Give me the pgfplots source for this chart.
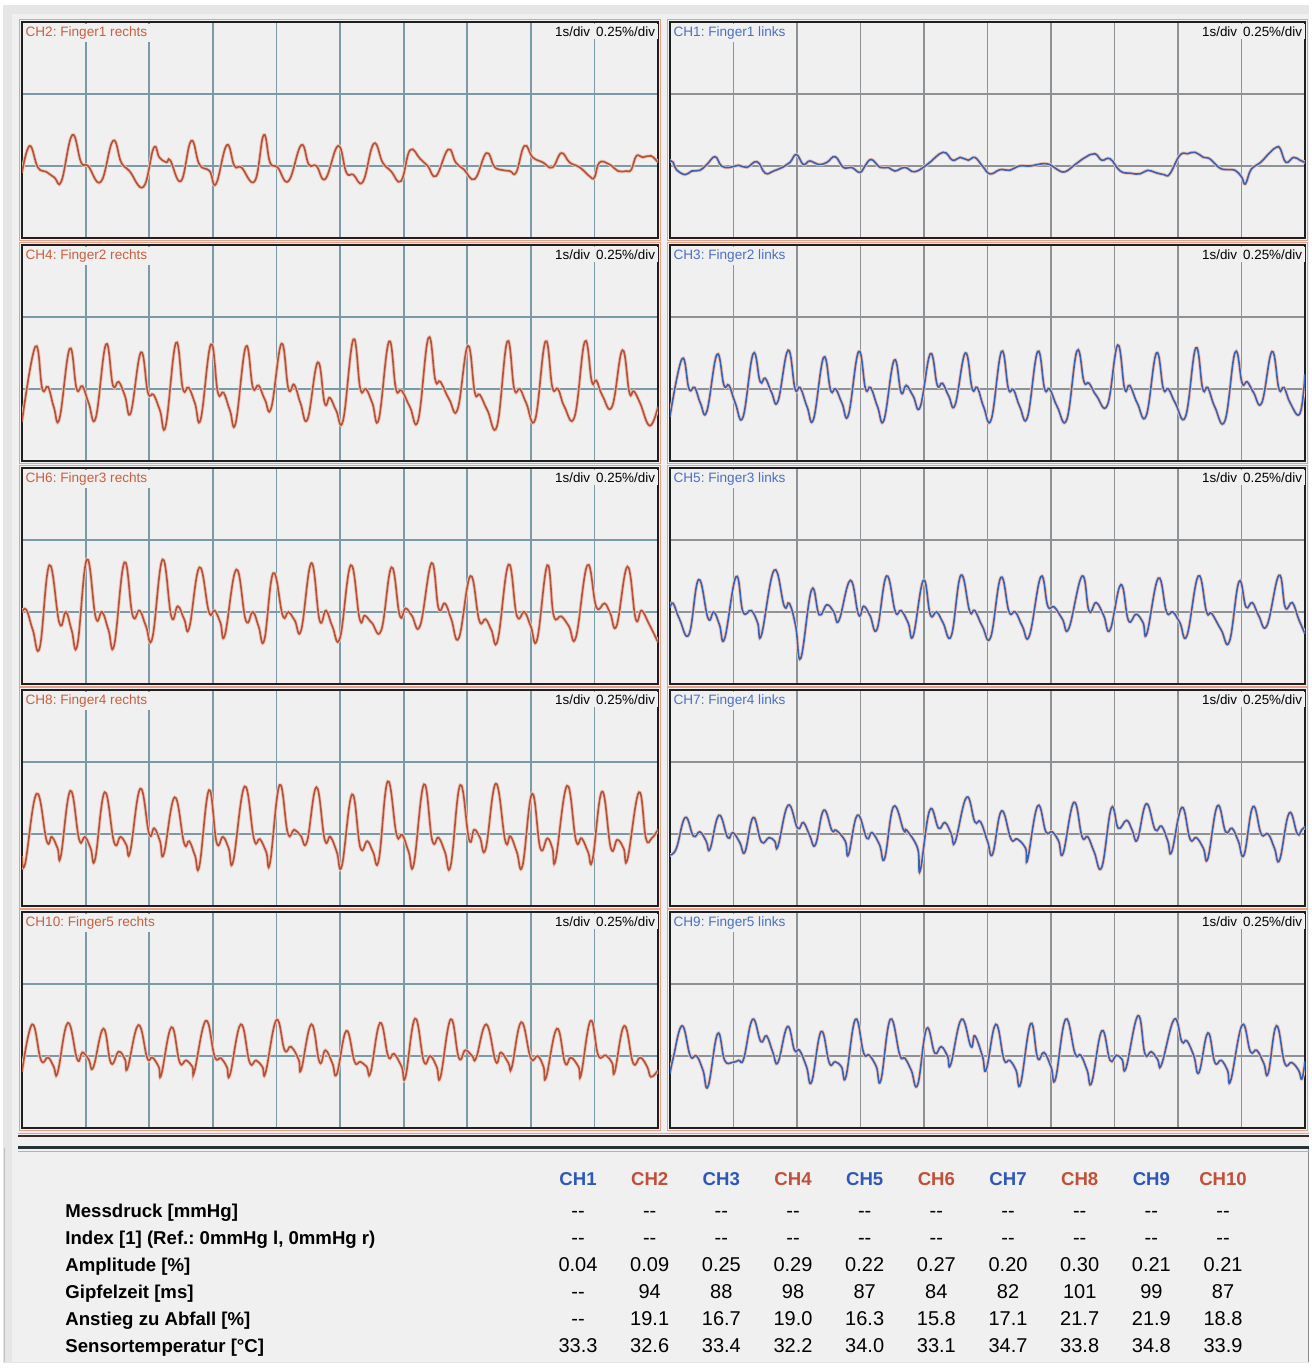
\documentclass[border=0pt]{standalone}
\usepackage{pgfplots}
\pgfplotsset{compat=1.18}
\usepackage{fontspec}
\setmainfont{Liberation Sans}
\frenchspacing
\definecolor{bg}{HTML}{F0F0F0}
\definecolor{outerbg}{HTML}{E6E6E6}
\definecolor{gridL}{HTML}{7B9AA8}
\definecolor{gridR}{HTML}{8E9294}
\definecolor{trR}{HTML}{B0533A}
\definecolor{trB}{HTML}{3762B4}
\definecolor{labR}{HTML}{C8603F}
\definecolor{labB}{HTML}{4A70C4}
\definecolor{hdR}{HTML}{C0503A}
\definecolor{hdB}{HTML}{2E58B8}
\definecolor{salmon}{HTML}{E8A088}
\definecolor{halo}{HTML}{F0C4B6}
\definecolor{sepA}{HTML}{3A2A28}
\definecolor{sepB}{HTML}{26323A}
\pgfplotsset{
 panel/.style={scale only axis, width=318pt, height=108pt, xmin=0, xmax=10, ymin=-1, ymax=2,
   xtick={1,2,...,9}, ytick={0,1}, xticklabels={}, yticklabels={}, major tick length=0pt,
   xmajorgrids, ymajorgrids, axis line style={draw=black!88, line width=1pt},
   axis background/.style={fill=bg}, anchor=north west},
 left/.style={panel, grid style={gridL, line width=0.9pt}},
 right/.style={panel, width=317.5pt, grid style={gridR, line width=0.9pt}},
 trr/.style={trR, line width=0.8pt, smooth, tension=0.72, no marks, preaction={draw=halo, line width=1.7pt}},
 trb/.style={trB, line width=0.8pt, smooth, tension=0.72, no marks, preaction={draw=halo, line width=1.7pt}},
}
\newcommand{\lab}[2]{\node[anchor=north west, inner sep=1.3pt, fill=bg, text=#1, font=\fontsize{6.8}{7}\selectfont] at ([xshift=0.3pt,yshift=-0.8pt]rel axis cs:0,1) {#2};
 \node[anchor=north east, inner sep=1.3pt, fill=bg, text=black, font=\fontsize{6.7}{7}\selectfont] at ([xshift=0pt,yshift=-0.8pt]rel axis cs:1,1) {1s/div\hspace{3pt}0.25\%/div};}
\begin{document}
\begin{tikzpicture}
\useasboundingbox (0,0) rectangle (655.5pt,-684.5pt);
\begin{scope}[x=0.5pt,y=-0.5pt]
\fill[white] (0,0) rectangle (1311,1369);
\fill[outerbg] (3,5) rectangle (1309,1363);
\fill[bg] (12,14) rectangle (1309,1362);
\draw[black!45, line width=0.5pt] (1308,1148) -- (1308,1362);
\draw[black!25, line width=0.5pt] (4,1148) -- (4,1362);
\end{scope}

% ---------------- Row 1 ----------------
\begin{axis}[left, at={(11pt,-11pt)}]
\addplot[trr] coordinates {(0,-0.09) (0.12,0.28) (0.25,-0.02) (0.38,-0.08) (0.51,-0.16) (0.62,-0.21) (0.79,0.43) (0.93,0.05) (1.04,0.0) (1.24,-0.22) (1.43,0.35) (1.56,0.05) (1.69,-0.07) (1.91,-0.29) (2.07,0.25) (2.16,0.12) (2.27,0.05) (2.33,0.08) (2.50,-0.21) (2.66,0.35) (2.79,0.02) (2.95,-0.07) (3.05,-0.25) (3.22,0.29) (3.34,0.0) (3.45,-0.02) (3.66,-0.21) (3.80,0.43) (3.90,0.05) (4.02,-0.02) (4.19,-0.21) (4.39,0.29) (4.51,0.02) (4.63,0.0) (4.77,-0.18) (4.97,0.28) (5.10,-0.09) (5.21,-0.12) (5.36,-0.22) (5.53,0.31) (5.67,0.05) (5.80,-0.07) (5.96,-0.21) (6.10,0.22) (6.26,0.10) (6.38,0.0) (6.51,-0.14) (6.70,0.23) (6.82,0.05) (6.95,-0.05) (7.12,-0.18) (7.30,0.18) (7.42,0.0) (7.51,-0.05) (7.67,-0.07) (7.77,-0.09) (7.90,0.28) (8.03,0.12) (8.19,0.05) (8.34,-0.02) (8.48,0.18) (8.61,0.05) (8.77,-0.02) (8.92,-0.14) (9.0,-0.16) (9.08,0.05) (9.24,0.02) (9.37,-0.07) (9.50,-0.07) (9.58,-0.05) (9.66,0.14) (9.76,0.12) (9.89,0.14) (10,0.05)};
\lab{labR}{CH2: Finger1 rechts}
\end{axis}
\begin{axis}[right, at={(335pt,-11pt)}]
\addplot[trb] coordinates {(0,0.07) (0.05,0.05) (0.10,-0.05) (0.24,-0.12) (0.34,-0.07) (0.47,-0.06) (0.58,0.02) (0.71,0.13) (0.81,0.0) (0.94,-0.02) (1.08,0.01) (1.21,-0.02) (1.37,0.06) (1.50,-0.10) (1.63,-0.07) (1.79,-0.01) (1.89,0.05) (1.99,0.16) (2.10,0.02) (2.20,0.07) (2.34,0.02) (2.47,0.05) (2.60,0.13) (2.73,-0.02) (2.86,-0.02) (2.99,-0.09) (3.07,0.0) (3.17,0.09) (3.31,-0.02) (3.44,-0.02) (3.54,-0.07) (3.70,-0.02) (3.85,-0.08) (4.05,0.02) (4.30,0.19) (4.45,0.08) (4.57,0.12) (4.70,0.08) (4.80,0.12) (4.92,0.0) (5.04,-0.11) (5.20,-0.05) (5.35,-0.06) (5.50,0.0) (5.67,0.0) (5.85,0.03) (5.98,0.02) (6.10,-0.05) (6.22,-0.08) (6.38,0.02) (6.54,0.12) (6.69,0.17) (6.80,0.08) (6.93,0.10) (7.09,-0.07) (7.25,-0.10) (7.40,-0.11) (7.52,-0.06) (7.64,-0.09) (7.78,-0.12) (7.87,-0.11) (8.03,0.15) (8.15,0.17) (8.27,0.19) (8.40,0.12) (8.50,0.10) (8.66,-0.03) (8.80,-0.05) (8.90,-0.06) (9.0,-0.15) (9.06,-0.25) (9.15,-0.05) (9.30,0.05) (9.45,0.19) (9.55,0.26) (9.61,0.24) (9.70,0.05) (9.82,0.12) (9.92,0.08) (10,0.05)};
\lab{labB}{CH1: Finger1 links}
\end{axis}

% ---------------- Row 2 ----------------
\begin{axis}[left, at={(11pt,-122.5pt)}]
\addplot[trr] coordinates {(0,-0.45) (0.21,0.59) (0.32,0.0) (0.41,0.03) (0.50,-0.25) (0.59,-0.41) (0.75,0.56) (0.86,0.0) (0.95,0.04) (1.05,-0.2) (1.16,-0.40) (1.32,0.62) (1.43,0.05) (1.52,0.10) (1.62,-0.1) (1.71,-0.33) (1.87,0.51) (1.98,-0.05) (2.07,-0.08) (2.17,-0.3) (2.26,-0.51) (2.42,0.64) (2.53,0.0) (2.62,0.02) (2.72,-0.2) (2.81,-0.42) (2.97,0.62) (3.08,-0.05) (3.17,-0.05) (3.27,-0.3) (3.36,-0.47) (3.52,0.59) (3.63,0.02) (3.72,0.05) (3.82,-0.15) (3.92,-0.26) (4.08,0.63) (4.19,0.0) (4.28,0.06) (4.38,-0.2) (4.49,-0.42) (4.65,0.37) (4.76,-0.2) (4.84,-0.12) (4.94,-0.3) (5.05,-0.43) (5.21,0.69) (5.32,0.0) (5.41,0.0) (5.51,-0.2) (5.61,-0.42) (5.77,0.66) (5.88,0.0) (5.97,-0.02) (6.10,-0.25) (6.23,-0.43) (6.39,0.71) (6.50,0.12) (6.58,0.10) (6.72,-0.15) (6.85,-0.28) (7.01,0.60) (7.12,-0.05) (7.20,-0.08) (7.32,-0.3) (7.47,-0.51) (7.63,0.66) (7.74,0.0) (7.83,0.0) (7.93,-0.2) (8.07,-0.42) (8.23,0.66) (8.34,0.02) (8.43,0.0) (8.53,-0.25) (8.69,-0.38) (8.85,0.66) (8.96,0.10) (9.03,0.12) (9.13,-0.1) (9.28,-0.24) (9.44,0.54) (9.55,-0.05) (9.62,-0.03) (9.72,-0.2) (9.87,-0.51) (10,-0.25)};
\lab{labR}{CH4: Finger2 rechts}
\end{axis}
\begin{axis}[right, at={(335pt,-122.5pt)}]
\addplot[trb] coordinates {(0,-0.38) (0.19,0.42) (0.30,0.0) (0.39,0.02) (0.48,-0.2) (0.58,-0.31) (0.74,0.48) (0.85,0.05) (0.93,0.05) (1.03,-0.2) (1.15,-0.39) (1.31,0.49) (1.42,0.1) (1.50,0.15) (1.60,-0.05) (1.70,-0.17) (1.86,0.54) (1.97,0.0) (2.05,0.02) (2.16,-0.25) (2.26,-0.42) (2.42,0.44) (2.53,-0.02) (2.61,0.0) (2.71,-0.2) (2.81,-0.36) (2.97,0.52) (3.08,0.0) (3.16,0.02) (3.27,-0.25) (3.37,-0.43) (3.53,0.40) (3.64,-0.05) (3.72,0.05) (3.83,-0.1) (3.94,-0.25) (4.10,0.49) (4.21,0.05) (4.29,0.08) (4.39,-0.1) (4.49,-0.22) (4.65,0.50) (4.76,0.0) (4.84,0.02) (4.94,-0.25) (5.06,-0.42) (5.22,0.52) (5.33,0.0) (5.41,-0.01) (5.51,-0.25) (5.63,-0.39) (5.79,0.52) (5.90,0.0) (5.98,0.0) (6.10,-0.25) (6.25,-0.42) (6.41,0.53) (6.52,0.1) (6.60,0.08) (6.72,-0.1) (6.89,-0.22) (7.05,0.61) (7.16,0.0) (7.24,0.05) (7.36,-0.2) (7.50,-0.37) (7.66,0.50) (7.77,0.0) (7.85,0.0) (7.96,-0.2) (8.12,-0.38) (8.28,0.57) (8.39,0.0) (8.47,0.02) (8.58,-0.25) (8.74,-0.44) (8.90,0.51) (9.01,0.08) (9.09,0.1) (9.19,-0.05) (9.32,-0.19) (9.48,0.52) (9.59,0.0) (9.67,0.02) (9.77,-0.2) (9.92,-0.34) (10,0.2)};
\lab{labB}{CH3: Finger2 links}
\end{axis}

% ---------------- Row 3 ----------------
\begin{axis}[left, at={(11pt,-234pt)}]
\addplot[trr] coordinates {(0,0.0) (0.07,0.03) (0.17,-0.25) (0.28,-0.49) (0.43,0.65) (0.59,-0.16) (0.69,0.0) (0.78,-0.25) (0.87,-0.46) (1.02,0.73) (1.16,-0.08) (1.26,0.0) (1.36,-0.25) (1.45,-0.46) (1.61,0.69) (1.74,-0.05) (1.85,0.02) (1.95,-0.2) (2.05,-0.36) (2.21,0.73) (2.35,-0.07) (2.45,0.08) (2.55,-0.1) (2.63,-0.22) (2.79,0.62) (2.94,0.0) (3.03,0.02) (3.12,-0.15) (3.19,-0.32) (3.37,0.59) (3.52,-0.12) (3.63,0.0) (3.72,-0.2) (3.81,-0.39) (3.95,0.54) (4.10,-0.05) (4.19,0.0) (4.29,-0.12) (4.39,-0.25) (4.55,0.68) (4.68,-0.12) (4.78,0.02) (4.88,-0.2) (5.0,-0.36) (5.17,0.65) (5.31,-0.1) (5.39,-0.05) (5.5,-0.15) (5.65,-0.25) (5.81,0.62) (5.94,-0.05) (6.03,0.05) (6.13,-0.05) (6.26,-0.19) (6.44,0.68) (6.55,0.05) (6.65,0.12) (6.75,-0.1) (6.87,-0.36) (7.05,0.50) (7.19,-0.12) (7.29,-0.1) (7.38,-0.25) (7.48,-0.39) (7.65,0.66) (7.78,-0.05) (7.90,0.0) (8.0,-0.2) (8.10,-0.38) (8.26,0.65) (8.36,-0.05) (8.48,-0.06) (8.6,-0.2) (8.71,-0.35) (8.89,0.65) (9.03,0.07) (9.16,0.12) (9.25,-0.02) (9.35,-0.19) (9.52,0.63) (9.65,-0.1) (9.74,0.02) (9.85,-0.15) (10,-0.42)};
\lab{labR}{CH6: Finger3 rechts}
\end{axis}
\begin{axis}[right, at={(335pt,-234pt)}]
\addplot[trb] coordinates {(0,0.06) (0.05,0.12) (0.15,-0.1) (0.30,-0.31) (0.45,0.45) (0.60,-0.09) (0.69,0.0) (0.78,-0.18) (0.86,-0.37) (1.04,0.49) (1.15,0.0) (1.28,0.02) (1.38,-0.15) (1.44,-0.32) (1.64,0.58) (1.80,0.08) (1.88,0.12) (1.98,-0.2) (2.06,-0.64) (2.23,0.31) (2.35,-0.04) (2.47,0.1) (2.58,0.0) (2.66,-0.12) (2.84,0.44) (2.97,-0.04) (3.05,0.08) (3.15,-0.05) (3.26,-0.24) (3.41,0.50) (3.55,0.0) (3.64,0.02) (3.75,-0.15) (3.83,-0.33) (3.99,0.44) (4.10,-0.04) (4.20,0.0) (4.3,-0.15) (4.43,-0.33) (4.58,0.51) (4.72,0.01) (4.80,0.02) (4.92,-0.2) (5.05,-0.35) (5.21,0.48) (5.34,0.0) (5.44,0.0) (5.55,-0.2) (5.66,-0.33) (5.84,0.49) (5.95,0.08) (6.05,0.07) (6.18,-0.1) (6.28,-0.23) (6.49,0.50) (6.60,0.01) (6.71,0.13) (6.83,-0.05) (6.93,-0.25) (7.10,0.38) (7.22,-0.12) (7.34,-0.03) (7.45,-0.15) (7.51,-0.30) (7.69,0.47) (7.82,0.0) (7.92,0.0) (8.03,-0.15) (8.14,-0.33) (8.32,0.50) (8.45,0.0) (8.53,-0.02) (8.68,-0.25) (8.81,-0.41) (8.96,0.42) (9.07,0.07) (9.17,0.13) (9.27,-0.05) (9.40,-0.19) (9.59,0.51) (9.69,0.06) (9.80,0.13) (9.9,-0.1) (10,-0.3)};
\lab{labB}{CH5: Finger3 links}
\end{axis}

% ---------------- Row 4 ----------------
\begin{axis}[left, at={(11pt,-345pt)}]
\addplot[trr] coordinates {(0,-0.31) (0.05,-0.41) (0.23,0.56) (0.39,-0.1) (0.47,-0.04) (0.56,-0.2) (0.61,-0.31) (0.76,0.60) (0.90,-0.08) (0.99,-0.04) (1.08,-0.2) (1.15,-0.35) (1.30,0.58) (1.45,-0.12) (1.55,-0.04) (1.64,-0.15) (1.70,-0.25) (1.86,0.63) (2.0,0.0) (2.08,0.08) (2.17,-0.1) (2.23,-0.28) (2.40,0.51) (2.55,-0.13) (2.63,-0.1) (2.72,-0.3) (2.79,-0.44) (2.94,0.61) (3.06,-0.12) (3.16,-0.04) (3.25,-0.2) (3.32,-0.38) (3.50,0.66) (3.65,-0.08) (3.74,-0.07) (3.84,-0.25) (3.90,-0.40) (4.05,0.68) (4.18,0.01) (4.28,0.06) (4.38,-0.02) (4.48,-0.11) (4.63,0.65) (4.76,-0.08) (4.85,-0.04) (4.95,-0.25) (5.03,-0.44) (5.19,0.55) (5.32,-0.19) (5.43,-0.1) (5.52,-0.25) (5.61,-0.36) (5.75,0.73) (5.89,-0.01) (5.98,-0.01) (6.08,-0.25) (6.16,-0.42) (6.32,0.69) (6.45,-0.09) (6.55,-0.05) (6.65,-0.25) (6.74,-0.44) (6.89,0.68) (7.03,-0.08) (7.11,0.06) (7.2,-0.05) (7.29,-0.21) (7.45,0.70) (7.60,-0.1) (7.68,-0.03) (7.78,-0.25) (7.87,-0.44) (8.02,0.56) (8.15,-0.2) (8.26,-0.06) (8.34,-0.2) (8.39,-0.36) (8.57,0.67) (8.71,-0.09) (8.80,-0.06) (8.9,-0.25) (8.97,-0.36) (9.12,0.59) (9.26,-0.2) (9.36,-0.08) (9.46,-0.2) (9.52,-0.35) (9.70,0.58) (9.81,-0.06) (9.90,-0.06) (10,0.06)};
\lab{labR}{CH8: Finger4 rechts}
\end{axis}
\begin{axis}[right, at={(335pt,-345pt)}]
\addplot[trb] coordinates {(0,-0.29) (0.1,-0.2) (0.24,0.23) (0.37,-0.03) (0.47,0.03) (0.57,-0.1) (0.63,-0.21) (0.77,0.26) (0.91,-0.05) (0.99,0.02) (1.1,-0.12) (1.18,-0.25) (1.31,0.23) (1.44,-0.11) (1.56,-0.05) (1.65,-0.1) (1.70,-0.17) (1.86,0.40) (2.01,0.08) (2.10,0.16) (2.2,-0.02) (2.29,-0.15) (2.42,0.33) (2.55,0.05) (2.62,0.05) (2.76,-0.1) (2.81,-0.29) (2.95,0.26) (3.10,-0.06) (3.18,0.02) (3.3,-0.15) (3.38,-0.34) (3.52,0.38) (3.68,0.05) (3.73,0.05) (3.9,-0.2) (3.94,-0.51) (4.09,0.33) (4.23,0.08) (4.33,0.16) (4.43,0.0) (4.49,-0.11) (4.67,0.51) (4.80,0.17) (4.89,0.17) (5.0,-0.1) (5.08,-0.28) (5.22,0.32) (5.37,-0.07) (5.47,-0.07) (5.6,-0.2) (5.63,-0.36) (5.79,0.39) (5.92,0.03) (6.02,0.03) (6.12,-0.1) (6.19,-0.27) (6.36,0.44) (6.49,-0.04) (6.58,-0.04) (6.68,-0.25) (6.80,-0.46) (6.95,0.36) (7.06,0.08) (7.19,0.19) (7.28,0.05) (7.36,-0.08) (7.50,0.42) (7.64,0.06) (7.74,0.11) (7.84,-0.1) (7.90,-0.25) (8.06,0.37) (8.19,-0.07) (8.29,-0.05) (8.4,-0.2) (8.47,-0.34) (8.62,0.39) (8.75,0.03) (8.85,0.08) (8.95,-0.1) (9.04,-0.29) (9.18,0.38) (9.31,0.0) (9.42,0.0) (9.52,-0.2) (9.60,-0.36) (9.75,0.29) (9.88,0.0) (9.95,0.06) (10,0.1)};
\lab{labB}{CH7: Finger4 links}
\end{axis}

% ---------------- Row 5 ----------------
\begin{axis}[left, at={(11pt,-456pt)}]
\addplot[trr] coordinates {(0,-0.22) (0.16,0.44) (0.30,-0.06) (0.41,-0.02) (0.5,-0.15) (0.56,-0.23) (0.72,0.46) (0.87,-0.05) (0.95,0.05) (1.05,-0.05) (1.12,-0.16) (1.28,0.38) (1.40,-0.1) (1.52,0.06) (1.62,-0.05) (1.66,-0.17) (1.83,0.43) (1.97,-0.03) (2.05,-0.02) (2.15,-0.15) (2.19,-0.26) (2.35,0.40) (2.48,-0.09) (2.58,-0.06) (2.68,-0.15) (2.71,-0.22) (2.89,0.49) (3.03,-0.01) (3.13,-0.03) (3.22,-0.15) (3.27,-0.26) (3.44,0.44) (3.58,-0.09) (3.68,-0.06) (3.78,-0.15) (3.83,-0.23) (4.00,0.50) (4.13,0.08) (4.23,0.13) (4.35,-0.05) (4.39,-0.19) (4.55,0.44) (4.68,-0.09) (4.77,0.08) (4.88,-0.1) (4.95,-0.25) (5.10,0.35) (5.23,-0.08) (5.32,-0.08) (5.42,-0.15) (5.48,-0.23) (5.63,0.46) (5.76,-0.01) (5.85,0.03) (5.97,-0.15) (6.03,-0.29) (6.18,0.52) (6.32,-0.08) (6.42,0.0) (6.52,-0.15) (6.58,-0.29) (6.74,0.51) (6.87,-0.03) (6.97,0.08) (7.08,0.0) (7.14,-0.03) (7.30,0.44) (7.45,-0.08) (7.53,0.05) (7.65,-0.1) (7.70,-0.16) (7.85,0.47) (8.00,-0.03) (8.11,0.0) (8.2,-0.15) (8.24,-0.30) (8.41,0.38) (8.54,-0.1) (8.63,-0.02) (8.75,-0.15) (8.79,-0.26) (8.94,0.49) (9.06,0.01) (9.18,0.01) (9.28,-0.1) (9.32,-0.22) (9.47,0.42) (9.61,-0.1) (9.72,-0.02) (9.83,-0.15) (9.89,-0.29) (10,-0.2)};
\lab{labR}{CH10: Finger5 rechts}
\end{axis}
\begin{axis}[right, at={(335pt,-456pt)}]
\addplot[trb] coordinates {(0,-0.24) (0.05,-0.03) (0.19,0.42) (0.32,0.0) (0.42,0.0) (0.52,-0.2) (0.60,-0.42) (0.75,0.31) (0.86,-0.06) (0.98,-0.09) (1.08,-0.06) (1.16,-0.04) (1.30,0.51) (1.43,0.2) (1.52,0.28) (1.62,0.05) (1.70,-0.09) (1.85,0.41) (1.96,0.08) (2.04,0.08) (2.15,-0.15) (2.23,-0.36) (2.38,0.34) (2.51,-0.1) (2.60,-0.08) (2.7,-0.15) (2.77,-0.29) (2.92,0.51) (3.05,0.04) (3.14,0.01) (3.25,-0.15) (3.32,-0.34) (3.47,0.51) (3.62,0.01) (3.70,-0.03) (3.8,-0.2) (3.90,-0.40) (4.04,0.38) (4.17,0.04) (4.27,0.13) (4.37,0.0) (4.42,-0.12) (4.59,0.51) (4.74,0.13) (4.80,0.28) (4.92,0.0) (4.98,-0.19) (5.13,0.44) (5.26,-0.05) (5.35,-0.06) (5.45,-0.2) (5.52,-0.39) (5.68,0.45) (5.79,-0.03) (5.89,0.05) (6.0,-0.15) (6.07,-0.32) (6.23,0.51) (6.38,0.03) (6.47,0.01) (6.57,-0.2) (6.64,-0.37) (6.80,0.35) (6.93,-0.06) (7.03,0.01) (7.12,-0.05) (7.18,-0.17) (7.37,0.56) (7.48,0.03) (7.58,0.06) (7.68,-0.05) (7.74,-0.12) (7.94,0.51) (8.06,0.2) (8.14,0.21) (8.25,0.0) (8.33,-0.23) (8.47,0.32) (8.58,-0.09) (8.68,-0.06) (8.78,-0.2) (8.83,-0.34) (9.01,0.43) (9.14,0.06) (9.24,0.08) (9.35,-0.1) (9.42,-0.24) (9.55,0.42) (9.68,-0.1) (9.79,-0.09) (9.9,-0.2) (9.95,-0.32) (10,-0.08)};
\lab{labB}{CH9: Finger5 links}
\end{axis}

\begin{scope}[x=0.5pt,y=-0.5pt]
% salmon outer frames
\foreach \t in {22,245,468,690,912} {
  \draw[salmon, line width=0.5pt] (19.5,\t-2.5) rectangle (660.5,\t+218.5);
  \draw[salmon, line width=0.5pt] (667.5,\t-2.5) rectangle (1307.5,\t+218.5);
}
% double separator
\draw[salmon, line width=0.6pt] (18,1133.4) -- (1309,1133.4);
\draw[sepA, line width=1.1pt] (18,1136.3) -- (1309,1136.3);
\draw[sepB, line width=1.3pt] (18,1147.2) -- (1309,1147.2);
\draw[salmon, line width=0.6pt] (18,1151.5) -- (1309,1151.5);
% table header
\foreach \c [count=\i] in {hdB,hdR,hdB,hdR,hdB,hdR,hdB,hdR,hdB,hdR}
  \node[anchor=base, text=\c, font=\bfseries\fontsize{9.3}{10}\selectfont, inner sep=0pt] at ({578+(\i-1)*71.67},1185) {CH\i};
% row labels
\foreach \l/\yy in {{Messdruck [mmHg]}/1217, {Index [1] (Ref.: 0mmHg l, 0mmHg r)}/1244, {Amplitude [\%]}/1271, {Gipfelzeit [ms]}/1298, {Anstieg zu Abfall [\%]}/1325, {Sensortemperatur [°C]}/1352}
  \node[anchor=base west, font=\bfseries\fontsize{9.3}{10}\selectfont, inner sep=0pt] at (65,\yy) {\l};
% values
\foreach \v [count=\i] in {{-}{-},{-}{-},{-}{-},{-}{-},{-}{-},{-}{-},{-}{-},{-}{-},{-}{-},{-}{-}}
  \node[anchor=base, font=\fontsize{10}{11}\selectfont, inner sep=0pt] at ({578+(\i-1)*71.67},1217) {\v};
\foreach \v [count=\i] in {{-}{-},{-}{-},{-}{-},{-}{-},{-}{-},{-}{-},{-}{-},{-}{-},{-}{-},{-}{-}}
  \node[anchor=base, font=\fontsize{10}{11}\selectfont, inner sep=0pt] at ({578+(\i-1)*71.67},1244) {\v};
\foreach \v [count=\i] in {0.04,0.09,0.25,0.29,0.22,0.27,0.20,0.30,0.21,0.21}
  \node[anchor=base, font=\fontsize{10}{11}\selectfont, inner sep=0pt] at ({578+(\i-1)*71.67},1271) {\v};
\foreach \v [count=\i] in {{-}{-},94,88,98,87,84,82,101,99,87}
  \node[anchor=base, font=\fontsize{10}{11}\selectfont, inner sep=0pt] at ({578+(\i-1)*71.67},1298) {\v};
\foreach \v [count=\i] in {{-}{-},19.1,16.7,19.0,16.3,15.8,17.1,21.7,21.9,18.8}
  \node[anchor=base, font=\fontsize{10}{11}\selectfont, inner sep=0pt] at ({578+(\i-1)*71.67},1325) {\v};
\foreach \v [count=\i] in {33.3,32.6,33.4,32.2,34.0,33.1,34.7,33.8,34.8,33.9}
  \node[anchor=base, font=\fontsize{10}{11}\selectfont, inner sep=0pt] at ({578+(\i-1)*71.67},1352) {\v};
\end{scope}
\end{tikzpicture}
\end{document}
